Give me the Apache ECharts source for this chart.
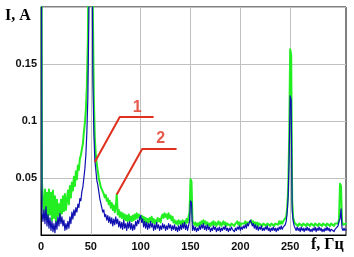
<!DOCTYPE html>
<html><head><meta charset="utf-8">
<script src="https://cdn.jsdelivr.net/npm/echarts@6/dist/echarts.min.js"></script>
<style>html,body{margin:0;padding:0;background:#fff}#c{width:354px;height:257px}</style>
</head><body><div id="c"></div>
<script>
// Frequency grid start and step (Hz); one sample per Hz
const freqStart = 0;
const freqStep = 1;
// Curve 2 (green) current, A, sampled at 0..306 Hz
const curveGreen = [
0.5,0.045,0.030,0.016,0.040,0.014,0.037,0.012,0.040,0.018,
0.037,0.013,0.039,0.015,0.034,0.011,0.031,0.017,0.027,0.013,
0.031,0.019,0.034,0.021,0.036,0.022,0.031,0.039,0.027,0.043,
0.033,0.046,0.039,0.051,0.043,0.056,0.049,0.061,0.057,0.067,
0.070,0.075,0.080,0.090,0.098,0.110,0.130,0.170,0.260,0.420,
0.450,0.350,0.200,0.120,0.085,0.070,0.062,0.056,0.050,0.046,
0.042,0.040,0.038,0.036,0.033,0.035,0.030,0.032,0.027,0.030,
0.024,0.028,0.022,0.026,0.020,0.024,0.036,0.018,0.022,0.016,
0.020,0.015,0.019,0.014,0.018,0.013,0.017,0.012,0.018,0.013,
0.016,0.012,0.017,0.013,0.018,0.014,0.019,0.015,0.018,0.016,
0.014,0.017,0.012,0.016,0.011,0.015,0.010,0.014,0.011,0.015,
0.012,0.016,0.011,0.014,0.010,0.013,0.011,0.015,0.012,0.014,
0.011,0.016,0.018,0.015,0.019,0.016,0.018,0.014,0.019,0.015,
0.017,0.013,0.016,0.011,0.013,0.010,0.012,0.009,0.013,0.010,
0.012,0.009,0.013,0.010,0.012,0.010,0.014,0.011,0.016,0.020,
0.049,0.047,0.012,0.012,0.009,0.011,0.008,0.010,0.008,0.011,
0.009,0.012,0.010,0.013,0.010,0.012,0.009,0.011,0.008,0.010,
0.008,0.011,0.009,0.012,0.009,0.011,0.008,0.010,0.012,0.009,
0.011,0.008,0.010,0.012,0.009,0.011,0.008,0.010,0.009,0.011,
0.008,0.010,0.009,0.011,0.008,0.010,0.009,0.012,0.009,0.011,
0.008,0.010,0.009,0.011,0.010,0.012,0.009,0.011,0.010,0.012,
0.011,0.013,0.010,0.012,0.009,0.011,0.009,0.011,0.008,0.010,
0.009,0.011,0.008,0.010,0.009,0.011,0.008,0.010,0.009,0.011,
0.008,0.010,0.009,0.011,0.008,0.010,0.009,0.011,0.009,0.012,
0.010,0.012,0.010,0.012,0.011,0.013,0.016,0.024,0.040,0.085,
0.163,0.158,0.030,0.015,0.012,0.010,0.009,0.011,0.008,0.010,
0.009,0.011,0.008,0.010,0.009,0.011,0.008,0.010,0.009,0.011,
0.008,0.010,0.009,0.011,0.008,0.010,0.009,0.011,0.008,0.010,
0.009,0.010,0.008,0.010,0.009,0.011,0.008,0.010,0.009,0.010,
0.008,0.010,0.009,0.011,0.008,0.010,0.009,0.011,0.010,0.014,
0.045,0.043,0.012,0.009,0.010,0.009,0.010
];
// Curve 1 (blue) current, A, sampled at 0..306 Hz
const curveBlue = [
0.5,0.020,0.012,0.022,0.010,0.025,0.008,0.018,0.006,0.015,
0.004,0.012,0.003,0.010,0.002,0.012,0.005,0.016,0.008,0.019,
0.010,0.016,0.008,0.013,0.004,0.010,0.005,0.012,0.006,0.016,
0.010,0.020,0.014,0.022,0.017,0.024,0.020,0.027,0.024,0.032,
0.030,0.038,0.042,0.050,0.058,0.070,0.090,0.120,0.190,0.350,
0.420,0.300,0.140,0.090,0.066,0.057,0.048,0.044,0.038,0.032,
0.028,0.024,0.020,0.022,0.016,0.018,0.013,0.017,0.011,0.016,
0.010,0.015,0.008,0.014,0.009,0.016,0.010,0.014,0.007,0.012,
0.006,0.011,0.005,0.013,0.006,0.010,0.004,0.011,0.006,0.012,
0.005,0.010,0.004,0.009,0.005,0.012,0.008,0.013,0.010,0.015,
0.017,0.011,0.014,0.007,0.012,0.006,0.011,0.005,0.010,0.006,
0.012,0.007,0.010,0.004,0.009,0.005,0.011,0.006,0.009,0.004,
0.008,0.005,0.010,0.006,0.009,0.004,0.008,0.005,0.010,0.006,
0.009,0.004,0.008,0.005,0.009,0.004,0.007,0.003,0.008,0.004,
0.009,0.005,0.010,0.006,0.011,0.005,0.009,0.004,0.008,0.012,
0.030,0.028,0.004,0.008,0.004,0.007,0.003,0.006,0.004,0.008,
0.005,0.009,0.006,0.010,0.005,0.008,0.004,0.009,0.005,0.007,
0.003,0.006,0.004,0.008,0.005,0.007,0.003,0.006,0.004,0.007,
0.003,0.006,0.004,0.007,0.005,0.008,0.004,0.006,0.003,0.006,
0.004,0.007,0.005,0.006,0.003,0.006,0.004,0.007,0.005,0.008,
0.004,0.007,0.005,0.008,0.006,0.009,0.006,0.010,0.008,0.011,
0.013,0.011,0.008,0.010,0.006,0.009,0.005,0.008,0.004,0.007,
0.005,0.008,0.004,0.006,0.004,0.007,0.005,0.008,0.004,0.006,
0.003,0.006,0.004,0.007,0.004,0.006,0.003,0.006,0.004,0.007,
0.005,0.008,0.005,0.007,0.006,0.009,0.012,0.020,0.034,0.070,
0.122,0.118,0.022,0.012,0.008,0.006,0.004,0.007,0.004,0.006,
0.003,0.007,0.004,0.006,0.003,0.006,0.004,0.007,0.004,0.006,
0.003,0.005,0.003,0.006,0.004,0.007,0.003,0.006,0.004,0.007,
0.004,0.006,0.003,0.005,0.003,0.006,0.004,0.007,0.004,0.006,
0.003,0.005,0.004,0.006,0.003,0.005,0.004,0.006,0.008,0.012,
0.014,0.023,0.006,0.004,0.006,0.004,0.005
];
// Axis ticks
const xGridTicks = [50, 100, 150, 200, 250];
const xLabelTicks = [0, 50, 100, 150, 200, 250];
const yLabelTicks = [0.05, 0.1, 0.15];
// Callout leader lines (data coordinates: Hz, A) and their labels
const callout1 = [[54, 0.064], [79, 0.1035], [113, 0.1035]];
const callout2 = [[76, 0.0355], [101.5, 0.0755], [136, 0.0755]];
const calloutLabels = [{name: '1', at: [96.5, 0.1115]}, {name: '2', at: [120, 0.0845]}];

const toPairs = arr => arr.map((v, i) => [freqStart + i * freqStep, v]);

const chart = echarts.init(document.getElementById('c'), null, {renderer: 'canvas'});
chart.setOption({
  animation: false,
  backgroundColor: '#fff',
  grid: {left: 41, right: 8, top: 7, bottom: 22, show: true, borderColor: '#000', borderWidth: 1, backgroundColor: 'transparent'},
  xAxis: {
    type: 'value', min: 0, max: 306, interval: 50,
    axisLine: {show: true, onZero: false, lineStyle: {color: '#000', width: 1}},
    axisTick: {show: false},
    splitLine: {show: false},
    axisLabel: {
      color: '#111', fontFamily: 'Liberation Sans', fontSize: 11, fontWeight: 'bold', margin: 6,
      formatter: v => xLabelTicks.indexOf(v) >= 0 ? String(v) : '',
      showMaxLabel: false
    }
  },
  yAxis: {
    type: 'value', min: 0, max: 0.2, interval: 0.05,
    axisLine: {show: true, lineStyle: {color: '#000', width: 1}},
    axisTick: {show: false},
    splitLine: {show: true, lineStyle: {color: '#c0c0c0', width: 1}},
    axisLabel: {
      color: '#111', fontFamily: 'Liberation Sans', fontSize: 11, fontWeight: 'bold', margin: 4,
      formatter: v => yLabelTicks.some(t => Math.abs(t - v) < 1e-9) ? String(+v.toFixed(2)) : ''
    }
  },
  graphic: [
    {type: 'text', left: 5, top: 8, style: {text: 'I, A', font: 'bold 16px "Liberation Serif"', fill: '#000'}},
    {type: 'text', left: 311, top: 237, style: {text: 'f, Гц', font: 'bold 16px "Liberation Serif"', fill: '#000'}}
  ],
  series: [
    {
      type: 'line', data: [], symbol: 'none', silent: true, z: 1,
      markLine: {
        silent: true, symbol: 'none', label: {show: false}, z: 1,
        lineStyle: {color: '#c0c0c0', width: 1, type: 'solid'},
        data: xGridTicks.map(x => ({xAxis: x}))
      }
    },
    {type: 'line', data: toPairs(curveGreen), symbol: 'none', clip: true,
     lineStyle: {color: '#22ee22', width: 2, join: 'round', cap: 'round'}, z: 10},
    {type: 'line', data: toPairs(curveBlue), symbol: 'none', clip: true,
     lineStyle: {color: '#1010b0', width: 1.2, join: 'round', cap: 'round'}, z: 11},
    {type: 'line', data: callout1, symbol: 'none', lineStyle: {color: '#e0301e', width: 2}, z: 12},
    {type: 'line', data: callout2, symbol: 'none', lineStyle: {color: '#e0301e', width: 2}, z: 12},
    {type: 'scatter', symbolSize: 0, z: 13,
     data: calloutLabels.map(c => ({name: c.name, value: c.at})),
     label: {show: true, position: 'inside', formatter: p => p.name,
             color: '#e0301e', fontFamily: 'Liberation Sans', fontWeight: 'bold', fontSize: 16}}
  ]
});
</script></body></html>
